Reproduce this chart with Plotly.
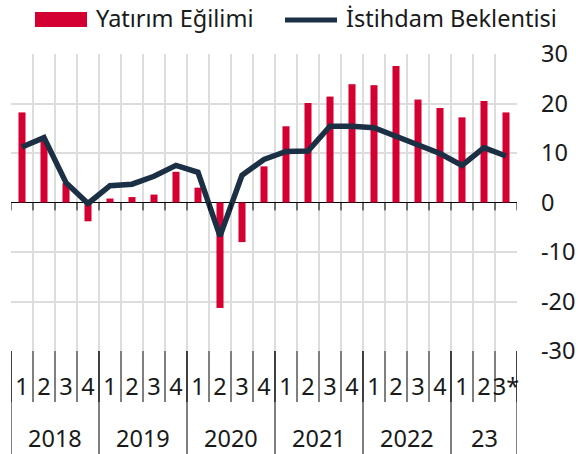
import plotly.graph_objects as go

years = ["2018"] * 4 + ["2019"] * 4 + ["2020"] * 4 + ["2021"] * 4 + ["2022"] * 4 + ["23"] * 3
quarters = ["1", "2", "3", "4"] * 5 + ["1", "2", "3*"]

yatirim = [18.2, 12.5, 3.9, -3.8, 0.8, 1.1, 1.6, 6.2, 3.0, -21.3, -8.0, 7.3,
           15.4, 20.1, 21.4, 23.9, 23.7, 27.6, 20.8, 19.1, 17.2, 20.5, 18.2]
istihdam = [11.2, 13.1, 4.0, -0.2, 3.4, 3.7, 5.3, 7.5, 6.1, -6.8, 5.5, 8.7,
            10.3, 10.4, 15.4, 15.4, 15.1, 13.3, 11.5, 9.9, 7.5, 11.1, 9.4]

y_ticks = [-30, -20, -10, 0, 10, 20, 30]
y_ticktext = ["-30", "-20", "-10", "0", "10", "20", "30"]

name_bar = "Yatırım Eğilimi"
name_line = "İstihdam Beklentisi"

RED = "#d50032"
NAVY = "#1c3045"
FONT = "Noto Sans"
TXT = "#1a1a1a"
FS = 23.5
GRID = "#dddddd"

n = len(quarters)
idx = list(range(n))
bounds = [i - 0.5 for i in range(n + 1)]

# year groups
groups = []
start = 0
for i in range(1, n + 1):
    if i == n or years[i] != years[start]:
        groups.append((years[start], start, i - 1))
        start = i

L, R, T, B = 11, 517, 54, 351
W, H = 580, 454
PW, PH = R - L, B - T

def px(v):
    return (v - L) / PW

def py(v):
    return (B - v) / PH

fig = go.Figure()
fig.add_trace(go.Bar(x=idx, y=yatirim, name=name_bar, marker=dict(color=RED, line=dict(width=0)),
                     width=0.32, showlegend=False))
fig.add_trace(go.Scatter(x=idx, y=istihdam, name=name_line, mode="lines",
                         line=dict(color=NAVY, width=5.5), showlegend=False))

shapes = []
for b in bounds:
    # small ticks below the zero line
    shapes.append(dict(type="line", xref="x", yref="y", x0=b, x1=b, y0=0, y1=-1.6,
                       line=dict(color="black", width=1)))
    # quarter separators below the axis
    shapes.append(dict(type="line", xref="x", yref="paper", x0=b, x1=b, y0=0, y1=py(402),
                       line=dict(color="black", width=1)))
# year dividers
year_bounds = sorted(set([g[1] - 0.5 for g in groups] + [g[2] + 0.5 for g in groups]))
for b in year_bounds:
    shapes.append(dict(type="line", xref="x", yref="paper", x0=b, x1=b, y0=0, y1=py(H),
                       line=dict(color="black", width=1)))
# custom legend symbols
shapes.append(dict(type="rect", xref="paper", yref="paper", x0=px(35), x1=px(87),
                   y0=py(27), y1=py(12), fillcolor=RED, line=dict(width=0)))
shapes.append(dict(type="line", xref="paper", yref="paper", x0=px(285), x1=px(337),
                   y0=py(20), y1=py(20), line=dict(color=NAVY, width=5)))

annotations = [
    dict(text=name_bar, xref="paper", yref="paper", x=px(93.5), y=py(18.5),
         xanchor="left", yanchor="middle", showarrow=False, font=dict(family=FONT, size=FS, color=TXT)),
    dict(text=name_line, xref="paper", yref="paper", x=px(344), y=py(18.5),
         xanchor="left", yanchor="middle", showarrow=False, font=dict(family=FONT, size=FS, color=TXT)),
]
for name, a, b in groups:
    annotations.append(dict(text=name, xref="x", yref="paper", x=(a + b) / 2, y=py(437.5),
                            xanchor="center", yanchor="middle", showarrow=False,
                            font=dict(family=FONT, size=FS, color=TXT)))

fig.update_layout(
    width=W, height=H,
    margin=dict(l=L, r=W - R, t=T, b=H - B),
    paper_bgcolor="white", plot_bgcolor="white",
    font=dict(family=FONT, size=FS, color=TXT),
    shapes=shapes,
    annotations=annotations,
    xaxis=dict(
        range=[-0.5, n - 0.5],
        automargin=False,
        tickmode="array", tickvals=idx, ticktext=quarters, tickangle=0,
        showgrid=False, ticks="",
        ticklabelstandoff=19,
        minor=dict(tickmode="array", tickvals=bounds, showgrid=True, gridcolor=GRID, gridwidth=2, ticks=""),
        showline=False, zeroline=False,
        tickfont=dict(family=FONT, size=FS, color=TXT),
    ),
    yaxis=dict(
        side="right", range=[-30, 30],
        tickmode="array", tickvals=y_ticks, ticktext=y_ticktext,
        automargin=False,
        showgrid=True, gridcolor=GRID, gridwidth=2,
        zeroline=True, zerolinecolor="black", zerolinewidth=1,
        ticks="", ticklabelstandoff=23,
        tickfont=dict(family=FONT, size=FS, color=TXT),
    ),
)

fig.write_html("out.html", config={"displayModeBar": False},
               post_script="document.body.style.margin='0px';")
